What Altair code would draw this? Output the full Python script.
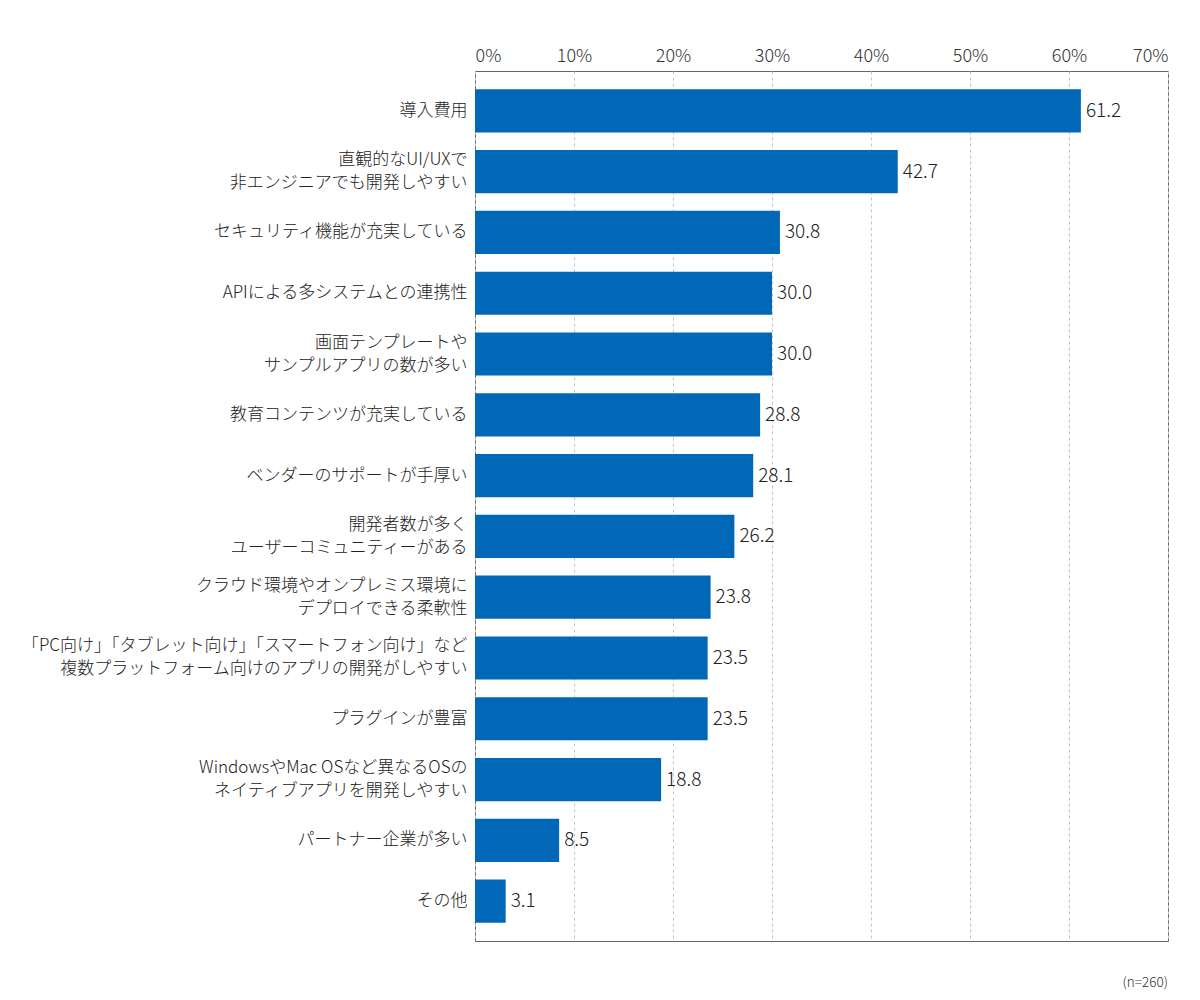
import altair as alt
import pandas as pd

categories = [
    "導入費用",
    "直観的なUI/UXで\n非エンジニアでも開発しやすい",
    "セキュリティ機能が充実している",
    "APIによる多システムとの連携性",
    "画面テンプレートや\nサンプルアプリの数が多い",
    "教育コンテンツが充実している",
    "ベンダーのサポートが手厚い",
    "開発者数が多く\nユーザーコミュニティーがある",
    "クラウド環境やオンプレミス環境に\nデプロイできる柔軟性",
    "「PC向け」「タブレット向け」「スマートフォン向け」など\n複数プラットフォーム向けのアプリの開発がしやすい",
    "プラグインが豊富",
    "WindowsやMac OSなど異なるOSの\nネイティブアプリを開発しやすい",
    "パートナー企業が多い",
    "その他",
]
values = [61.2, 42.7, 30.8, 30.0, 30.0, 28.8, 28.1, 26.2, 23.8, 23.5, 23.5, 18.8, 8.5, 3.1]
x_ticks = [0, 10, 20, 30, 40, 50, 60, 70]
note = "(n=260)"

df = pd.DataFrame({"cat": categories, "val": values})
df["lbl"] = [f"{v:.1f}" for v in values]

FONT = "Noto Sans CJK JP"
W, H = 693, 870

y_enc = alt.Y(
    "cat:N",
    sort=categories,
    scale=alt.Scale(paddingInner=0.29, paddingOuter=0.3),
    axis=alt.Axis(
        title=None,
        labelExpr="split(datum.label, '\\n')",
        labelFontSize=17,
        labelLineHeight=23,
        labelColor="#222",
        labelFont=FONT,
        labelFontWeight=300,
        labelPadding=8,
        labelOffset={
            "condition": {"test": "indexof(datum.label, '\\n') >= 0", "value": -11.5},
            "value": 0,
        },
        ticks=False,
        domain=False,
        labelLimit=480,
    ),
)
x_enc = alt.X(
    "val:Q",
    scale=alt.Scale(domain=[0, 70], nice=False),
    axis=alt.Axis(
        orient="top",
        values=x_ticks,
        labelExpr="datum.value + '%'",
        title=None,
        labelFontSize=18,
        labelColor="#333",
        labelFont=FONT,
        labelFontWeight=300,
        labelPadding=6,
        ticks=False,
        domain=False,
        grid=True,
        gridColor="#c4c4c4",
        gridDash=[3, 3],
        gridWidth=1,
    ),
)

bars = alt.Chart(df).mark_bar(color="#0068B7").encode(x=x_enc, y=y_enc)
texts = alt.Chart(df).mark_text(
    align="left", baseline="middle", dx=5, fontSize=19, font=FONT, fontWeight=300, color="#222"
).encode(x="val:Q", y=alt.Y("cat:N", sort=categories), text="lbl:N")
note_df = pd.DataFrame({"t": [note]})
note_mark = alt.Chart(note_df).mark_text(
    align="right", baseline="middle", fontSize=13.5, font=FONT, fontWeight=300, color="#333"
).encode(x=alt.value(W), y=alt.value(H + 42), text="t:N")

chart = (
    alt.layer(bars, texts, note_mark)
    .properties(
        width=W,
        height=H,
        autosize=alt.AutoSizeParams(type="none"),
        padding={"left": 467, "top": 63, "right": 20, "bottom": 60},
        background="white",
    )
    .configure_view(stroke="#666", strokeWidth=1)
)

chart.save("out.html", embed_options={"renderer": "svg", "actions": False})
